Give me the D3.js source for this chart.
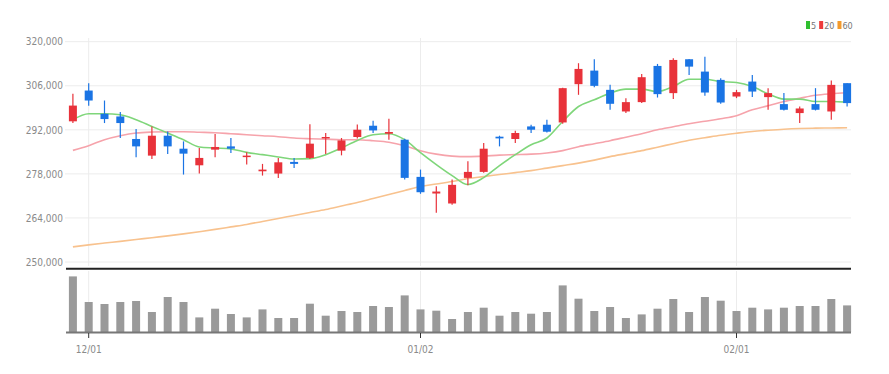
<!DOCTYPE html>
<html><head><meta charset="utf-8">
<script src="https://cdn.jsdelivr.net/npm/d3@7"></script>
<style>
body{margin:0;background:#fff;}
svg{display:block;font-family:"Liberation Sans Narrow","DejaVu Sans Condensed","Liberation Sans",sans-serif;}
</style></head><body>
<svg id="c" width="889" height="374"></svg>
<script>
// ---- data ----
const openV  = [294700,304480,297100,296245,289090,283800,290130,286000,280730,285700,286740,283385,278830,278100,281800,283070,289275,285380,289720,293300,290765,288865,277050,271760,268590,276730,278630,289815,289085,293080,293615,294340,306505,310815,304700,297830,300800,312300,303660,314425,310500,307870,302580,307330,302390,300170,297320,300170,297830,306825];
const closeV = [299700,301310,295420,294150,286740,290130,286740,284430,283070,286550,286010,283800,279360,281675,281170,287600,289720,288640,292030,291810,291300,276730,272170,272390,274515,278630,286000,289275,290990,292030,291400,305240,311350,305970,300270,300800,308720,303340,314200,312080,303850,300680,303970,304160,303660,298370,298780,298370,306285,300490];
const highV  = [303430,306820,301310,297640,292250,293080,291490,288330,286240,290670,289400,284840,281170,283070,283070,293800,290990,289400,293710,294880,295520,289180,279360,274070,276200,282000,287820,290130,291715,293615,295200,305335,313160,314425,306285,302070,309770,312940,314740,314500,315250,308410,304700,309450,305240,303660,299410,305240,307640,306825];
const lowV   = [294150,299630,294150,289400,283260,282750,284330,277780,278100,283260,284650,280950,277460,276730,279900,282750,284330,283890,289280,290990,288865,276200,271670,265650,268180,274390,278320,286740,287820,290990,291180,293930,303120,305555,298370,297320,300490,302260,301755,309450,302800,300270,302070,302390,298370,298150,294150,298150,295200,299410];
const volume = [556,300,280,300,310,200,350,300,146,233,180,146,226,140,140,283,163,210,200,260,250,366,226,213,130,200,243,163,200,183,200,466,333,210,250,140,176,233,330,200,350,313,210,243,226,243,260,260,330,266];
const ma5    = [295200,297100,297100,296780,295200,293080,290990,288865,286550,286240,285920,284840,284110,283385,282750,282850,284110,286240,288640,290450,290765,288865,284750,280950,277460,274610,276830,280640,284110,287280,289400,294660,299410,301535,303660,304920,304920,304160,305750,308090,308090,307330,307010,305750,303430,301760,301760,301000,301000,300810];
const ma20   = [285475,286965,288865,290130,290990,291300,291400,291400,291240,291080,290765,290450,290130,289815,289400,289180,289020,288865,288865,288550,288070,286965,285380,284270,283640,283480,283640,283955,284110,284270,284650,285380,286650,287600,288550,289660,290765,292030,292980,293930,294725,295520,296470,298370,299635,301000,302010,302960,303435,303755];
const ma60   = [254815,255450,256020,256555,257130,257730,258300,258930,259630,260360,261150,261940,262890,263840,264790,265740,266690,267800,268910,270180,271440,272710,273980,274770,275560,276510,277140,277780,278410,279040,279840,280630,281420,282370,283480,284430,285380,286490,287600,288710,289500,290290,290920,291490,291870,292190,292410,292540,292600,292670];
const yTicks = [250000,264000,278000,292000,306000,320000];
const xTickIndex = [1,22,42];
const xTickLabels = ["12/01","01/02","02/01"];
const legendNames = ["5","20","60"];

// ---- styles ----
const UP="#e8323a", DOWN="#1a74e4";
const maColors=["#7fd67a","#f6a3ab","#f8c28e"];
const FONT="'Liberation Sans Narrow','DejaVu Sans Condensed',sans-serif";

const svg=d3.select("#c");
const idx=d3.range(openV.length);
const x=d3.scaleBand().domain(idx).range([65,855]).paddingInner(0);
const cx=i=>x(i)+x.bandwidth()/2;
const bw=8;
const y=d3.scaleLinear().domain([250000,320000]).range([262,41.7]);
const yv=d3.scaleLinear().domain([0,620]).range([332,270]);

// grid
const g=svg.append("g");
g.selectAll("line.h").data(yTicks).join("line")
 .attr("x1",65).attr("x2",851).attr("y1",d=>y(d)).attr("y2",d=>y(d))
 .attr("stroke","#ececec").attr("stroke-width",1);
g.selectAll("line.v").data(xTickIndex).join("line")
 .attr("x1",d=>cx(d)).attr("x2",d=>cx(d)).attr("y1",38).attr("y2",266)
 .attr("stroke","#ececec").attr("stroke-width",1);
g.selectAll("line.v2").data(xTickIndex).join("line")
 .attr("x1",d=>cx(d)).attr("x2",d=>cx(d)).attr("y1",271).attr("y2",332)
 .attr("stroke","#ececec").attr("stroke-width",1);

// y axis labels
const yAxis=d3.axisLeft(y).tickValues(yTicks).tickSize(0).tickPadding(0)
 .tickFormat(d3.format(","));
const ya=svg.append("g").attr("transform","translate(63,0)").call(yAxis);
ya.select(".domain").remove();
ya.selectAll("text").attr("fill","#8a8a8a").attr("font-size","10px").attr("font-family",FONT);

// MA lines
[ma60,ma20,ma5].forEach((arr,k)=>{
  const col=maColors[2-k];
  svg.append("path").datum(arr)
   .attr("d",d3.line().x((d,i)=>cx(i)).y(d=>y(d)).curve(d3.curveMonotoneX))
   .attr("fill","none").attr("stroke",col).attr("stroke-width",1.6);
});

// candles
const cg=svg.append("g");
idx.forEach(i=>{
  const up=closeV[i]>=openV[i];
  const col=up?UP:DOWN;
  cg.append("line").attr("x1",cx(i)).attr("x2",cx(i))
    .attr("y1",y(highV[i])).attr("y2",y(lowV[i])).attr("stroke",col).attr("stroke-width",1.2);
  const top=y(Math.max(openV[i],closeV[i])), bot=y(Math.min(openV[i],closeV[i]));
  cg.append("rect").attr("x",cx(i)-bw/2).attr("width",bw)
    .attr("y",top).attr("height",Math.max(1.5,bot-top)).attr("fill",col);
});

// separator
svg.append("line").attr("x1",66).attr("x2",851).attr("y1",268.7).attr("y2",268.7)
 .attr("stroke","#222").attr("stroke-width",2);

// volume
svg.append("g").selectAll("rect").data(volume).join("rect")
 .attr("x",(d,i)=>cx(i)-bw/2).attr("width",bw)
 .attr("y",d=>yv(d)).attr("height",d=>yv(0)-yv(d))
 .attr("fill","#9a9a9a");
svg.append("line").attr("x1",66).attr("x2",851).attr("y1",332.5).attr("y2",332.5)
 .attr("stroke","#777").attr("stroke-width",2);

// x axis
const xa=svg.append("g").attr("transform","translate(0,333)")
 .call(d3.axisBottom(x).tickValues(xTickIndex).tickSize(5).tickPadding(8)
   .tickFormat((d)=>xTickLabels[xTickIndex.indexOf(d)]));
xa.select(".domain").remove();
xa.selectAll("line").attr("stroke","#333");
xa.selectAll("text").attr("fill","#8a8a8a").attr("font-size","10px").attr("font-family",FONT);

// legend
const lg=svg.append("g").attr("transform","translate(806,20)");
let lx=0;
legendNames.forEach((n,k)=>{
  lg.append("rect").attr("x",lx).attr("y",1).attr("width",4).attr("height",8).attr("fill",["#2fbf2f","#ee3b3b","#f39a2b"][k]);
  const t=lg.append("text").attr("x",lx+5).attr("y",9).attr("font-size","9px").attr("fill","#777").attr("font-family",FONT).text(n);
  lx+=5+t.node().getComputedTextLength()+3;
});
</script>
</body></html>
